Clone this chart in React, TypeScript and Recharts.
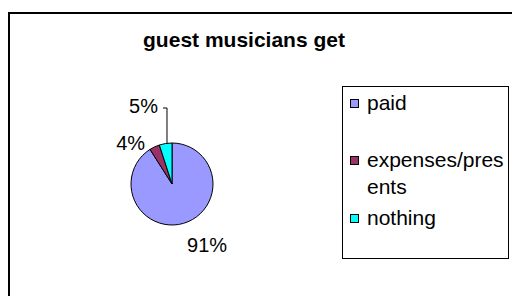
import React from 'react'
import { PieChart, Pie, Cell, Legend } from 'recharts'

const categories = ['paid', 'expenses/presents', 'nothing']
const shares = [91, 4, 5]
const colors = ['#9999FF', '#993366', '#00FFFF']

const data = categories.map((name, i) => ({ name, value: shares[i] }))

const RAD = Math.PI / 180
const FONT = '"Liberation Sans", Arial, sans-serif'

// where each percentage sits relative to its slice's outer edge
const labelLayout = [
  { dx: 3.6, dy: 28.6, anchor: 'start', leader: 0 },
  { dx: -9.5, dy: 3, anchor: 'end', leader: 0 },
  { dx: -7.6, dy: -30.5, anchor: 'end', leader: 35.5 },
]

// top margin of each legend row inside the box
const rowGaps = [2, 30, 4]

function renderLabel(props: any) {
  const { cx, cy, midAngle, outerRadius, percent, index } = props
  const ex = cx + outerRadius * Math.cos(-midAngle * RAD)
  const ey = cy + outerRadius * Math.sin(-midAngle * RAD)
  const l = labelLayout[index]
  return (
    <g>
      {l.leader > 0 && (
        <polyline
          points={`${ex + 1.4},${ey} ${ex + 1.4},${ey - l.leader} ${ex - 2.6},${ey - l.leader}`}
          fill="none"
          stroke="#000"
          strokeWidth={1}
        />
      )}
      <text
        x={ex + l.dx}
        y={ey + l.dy}
        textAnchor={l.anchor}
        fontFamily={FONT}
        fontSize={20}
        fill="#000"
      >
        {`${Math.round(percent * 100)}%`}
      </text>
    </g>
  )
}

// legend keeps the series order (Recharts would sort it by name)
function LegendBox() {
  return (
    <div
      style={{
        boxSizing: 'border-box',
        width: 167,
        height: 173,
        border: '1px solid #000',
        background: '#fff',
        fontFamily: FONT,
        fontSize: 21,
        lineHeight: '27px',
        color: '#000',
        paddingLeft: 7,
      }}
    >
      {categories.map((name, i) => (
        <div key={name} style={{ display: 'flex', alignItems: 'flex-start', marginTop: rowGaps[i] }}>
          <span
            style={{
              boxSizing: 'border-box',
              flex: 'none',
              width: 9,
              height: 9,
              marginTop: 10,
              marginRight: 8,
              border: '1.5px solid #000',
              background: colors[i],
            }}
          />
          <span style={{ width: 138, wordBreak: 'break-all' }}>{name}</span>
        </div>
      ))}
    </div>
  )
}

export default function App() {
  return (
    <div
      style={{
        position: 'fixed',
        left: 8,
        top: 8,
        width: 504,
        height: 288,
        overflow: 'hidden',
        background: '#fff',
      }}
    >
      <div style={{ position: 'absolute', left: 0, top: 4, width: 504, height: 1.5, background: '#000' }} />
      <div style={{ position: 'absolute', left: 0, top: 4, width: 1.5, height: 284, background: '#000' }} />
      <div
        style={{
          position: 'absolute',
          left: 0,
          top: 20,
          width: 472,
          textAlign: 'center',
          fontFamily: FONT,
          fontWeight: 'bold',
          fontSize: 21,
          lineHeight: '24px',
          color: '#000',
        }}
      >
        guest musicians get
      </div>
      <div style={{ position: 'absolute', left: 0, top: 0 }}>
        <PieChart width={480} height={288} margin={{ top: 0, right: 0, bottom: 0, left: 0 }}>
          <Pie
            data={data}
            dataKey="value"
            nameKey="name"
            cx={164}
            cy={176}
            outerRadius={41}
            startAngle={90}
            endAngle={-270}
            stroke="#000"
            strokeWidth={1}
            label={renderLabel}
            labelLine={false}
            isAnimationActive={false}
          >
            {data.map((d, i) => (
              <Cell key={d.name} fill={colors[i]} />
            ))}
          </Pie>
          <Legend
            layout="vertical"
            content={<LegendBox />}
            wrapperStyle={{ position: 'absolute', left: 334, top: 78, width: 167, height: 173 }}
          />
        </PieChart>
      </div>
    </div>
  )
}
